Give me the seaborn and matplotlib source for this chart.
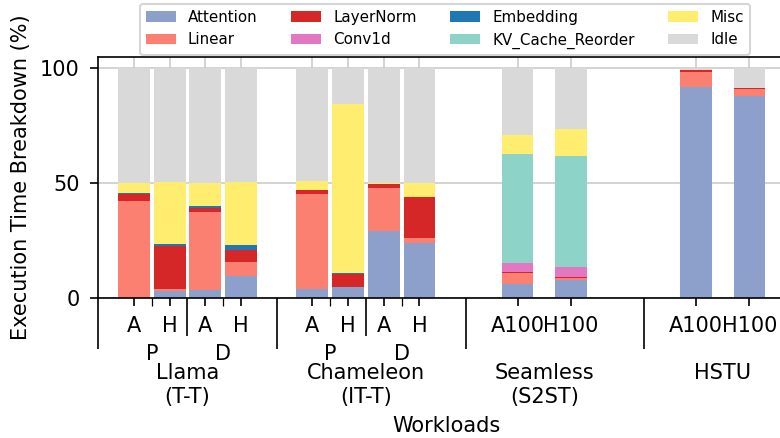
import numpy as np
import seaborn as sns
import matplotlib.pyplot as plt
from matplotlib.patches import Patch

plt.rcParams['font.size'] = 10

# bar layout (x positions) and labels
positions = [0, 1, 2, 3, 5, 6, 7, 8, 10.75, 12.25, 15.75, 17.25]
hw_labels = ['A', 'H', 'A', 'H', 'A', 'H', 'A', 'H', 'A100', 'H100', 'A100', 'H100']
phase_pos = [0.5, 2.5, 5.5, 7.5]
phase_labels = ['P', 'D', 'P', 'D']
phase_edges = [1.5, 6.5]
group_edges = [-1, 4, 9.3, 14.3]
group_pos = [1.5, 6.5, 11.5, 16.5]
group_labels = ['Llama\n(T-T)', 'Chameleon\n(IT-T)', 'Seamless\n(S2ST)', 'HSTU']

# execution time breakdown (%)
attention = [0.0, 2.8, 3.2, 9.6, 3.6, 4.5, 29.0, 23.7, 6.1, 7.7, 91.7, 87.9]
linear = [42.1, 0.8, 34.1, 5.8, 41.5, 0.0, 18.9, 2.2, 4.7, 0.7, 6.8, 2.9]
layernorm = [3.3, 18.8, 1.9, 5.4, 1.8, 5.8, 1.7, 17.9, 0.4, 0.5, 0.5, 0.6]
conv1d = [0, 0, 0, 0, 0, 0, 0, 0, 3.8, 4.3, 0, 0]
embedding = [0.4, 1.0, 0.6, 2.1, 0, 0.4, 0, 0, 0, 0, 0, 0]
kv_cache = [0, 0, 0, 0, 0, 0, 0, 0, 47.6, 48.5, 0, 0]
misc = [4.0, 27.0, 10.0, 27.5, 3.9, 73.8, 0.3, 6.1, 8.3, 11.8, 0.3, 0.0]
idle = [50.2, 49.6, 50.2, 49.6, 49.2, 15.5, 50.1, 50.1, 29.1, 26.5, 0.7, 8.6]

names = ['Attention', 'Linear', 'LayerNorm', 'Conv1d', 'Embedding',
         'KV_Cache_Reorder', 'Misc', 'Idle']
series = [attention, linear, layernorm, conv1d, embedding, kv_cache, misc, idle]
colors = ['#8da0cb', '#fb8072', '#d62728', '#e377c2', '#1f77b4',
          '#8dd3c7', '#ffed6f', '#d9d9d9']

fig = plt.figure(figsize=(5.2, 2.92), dpi=150)
ax = fig.add_axes([0.126, 0.3203, 0.892, 0.5502])

# stacked bars: draw cumulative totals from the top layer down
tops = np.cumsum(np.array(series), axis=0)
for i in range(len(series) - 1, -1, -1):
    sns.barplot(x=positions, y=tops[i], native_scale=True, color=colors[i],
                saturation=1, width=0.89, errorbar=None, linewidth=0, ax=ax)

ax.set_xlim(-1.0, 18.5)
ax.set_ylim(0, 105)
ax.set_yticks([0, 50, 100])
ax.set_xticks(positions, labels=hw_labels)
ax.set_xticks(phase_pos, labels=phase_labels, minor=True)
ax.tick_params(axis='both', which='major', length=4, pad=5)
ax.tick_params(axis='x', which='minor', length=4, pad=18)
ax.spines['right'].set_visible(False)
ax.grid(True, which='major', color='#cccccc', linewidth=0.8)
ax.set_axisbelow(True)

# separators and group labels
sep = ax.secondary_xaxis('bottom')
sep.set_xticks(group_edges, labels=[''] * len(group_edges))
sep.tick_params(length=24.6)
sub = ax.secondary_xaxis('bottom')
sub.set_xticks(phase_edges, labels=[''] * len(phase_edges))
sub.tick_params(length=18.4)
grp = ax.secondary_xaxis('bottom')
grp.set_xticks(group_pos, labels=group_labels)
grp.tick_params(length=0, pad=31.5)
for s in (sep, sub, grp):
    s.spines['bottom'].set_visible(False)

ax.set_xlabel('Workloads', labelpad=25)
ax.set_ylabel('Execution Time Breakdown (%)')

handles = [Patch(facecolor=c) for c in colors]
fig.legend(handles, names, ncol=4, loc='upper center',
           bbox_to_anchor=(0.570, 1.0), borderaxespad=0.25,
           columnspacing=2.2, fontsize=7.25)

fig.savefig('out.png', dpi=150)
